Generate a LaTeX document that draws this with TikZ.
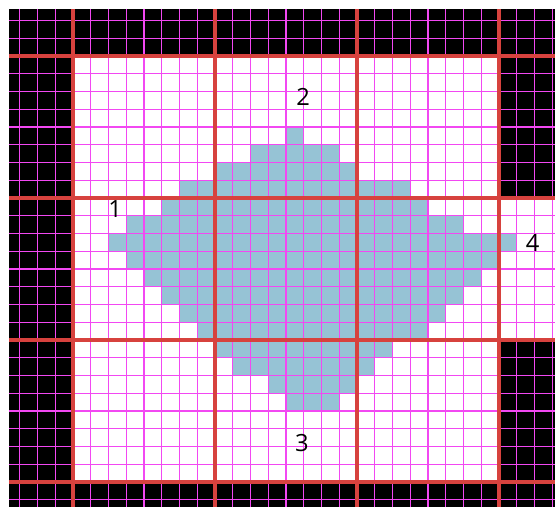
\documentclass[tikz,border=0pt]{standalone}
\usepackage{fontspec}
\setmainfont{Open Sans}
\definecolor{cellblue}{RGB}{150,195,213}
\definecolor{gridpink}{RGB}{242,72,242}
\definecolor{blockred}{RGB}{215,66,62}
\usetikzlibrary{positioning}

\begin{document}
\begin{tikzpicture}[x=0.5cm, y=0.5cm,
        finegrid/.style={gridpink, line width=1.1pt, step=0.5cm},
        blockline/.style={blockred, line width=2.6pt},
        celllabel/.style={font=\fontsize{19}{22}\selectfont, inner sep=0pt}
      ]
        \useasboundingbox (-4.113,-1.408) rectangle (27.155,27.155);
        % black surround and the open blocks
        \fill[black] (-3.606,-1.408) rectangle (27.155,26.648);
        \fill[white] (0,0) rectangle (24,24);
        \fill[white] (24,8) rectangle (27.155,16);

        % row / first column / last column of the blob
        \foreach \r/\a/\b in {4/12/12, 5/10/14, 6/8/15, 7/6/18, 8/5/19, 9/3/21,
                              10/2/24, 11/3/23, 12/4/22, 13/5/21, 14/6/20,
                              15/7/19, 16/8/17, 17/9/16, 18/11/15, 19/12/14}
          \fill[cellblue] (\a,23-\r) rectangle (\b+1,24-\r);

        \draw[finegrid] (-3.606,-1.408) grid (27.155,26.648);

        \foreach \k in {0,8,16,24} {
          \draw[blockline] (\k,-1.408) -- (\k,26.648);
          \draw[blockline] (-3.606,\k) -- (27.155,\k);
        }

        \node[celllabel] (n1) at (2.37,15.38) {1};
        \node[celllabel] (n2) at (12.96,21.69) {2};
        \node[celllabel] (n3) at (12.9,2.2) {3};
        \node[celllabel] (n4) at (25.9,13.46) {4};
      \end{tikzpicture}
\end{document}
